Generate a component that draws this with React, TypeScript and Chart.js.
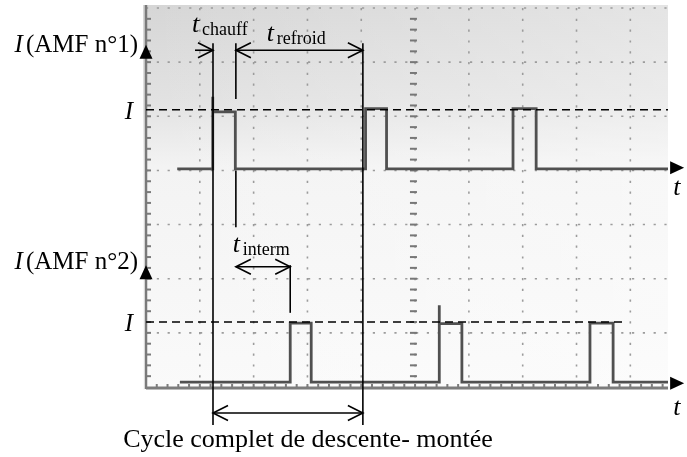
import React, { useEffect, useRef } from "react";
import { Chart, registerables } from "chart.js";

Chart.register(...registerables);

// Oscilloscope screen, units = divisions
const X_MAX = 9.7;
const Y_MAX = 7;

// Trace AMF n°1 (time, current)
const trace1Time = [0.58, 1.24, 1.24, 1.24, 1.27, 1.66, 1.66, 4.08, 4.08, 4.47, 4.47, 6.82, 6.82, 7.25, 7.25, 9.7];
const trace1Current = [4.03, 4.03, 5.36, 5.08, 5.08, 5.08, 4.03, 4.03, 5.14, 5.14, 4.03, 4.03, 5.14, 5.14, 4.03, 4.03];

// Trace AMF n°2 (time, current)
const trace2Time = [0.63, 2.68, 2.68, 3.07, 3.07, 5.45, 5.45, 5.45, 5.48, 5.87, 5.87, 8.25, 8.25, 8.68, 8.68, 9.7];
const trace2Current = [0.09, 0.09, 1.18, 1.18, 0.09, 0.09, 1.51, 1.17, 1.17, 1.17, 0.09, 0.09, 1.18, 1.18, 0.09, 0.09];

// Current levels I
const levelI1 = 5.12;
const levelI2 = 1.2;
const levelI2End = 8.85;

// Time markers
const tChauffStart = 1.245;
const tChauffEnd = 1.67;
const tRefroidEnd = 4.03;
const tIntermEnd = 2.68;

// Axis origins
const axis1Base = 4.05;
const axis2Base = 0.07;
const axis1Top = 6.32;
const axis2Top = 2.25;
const tAxisEnd = 10.0;

// Texts
const axis1Label = "(AMF n°1)";
const axis2Label = "(AMF n°2)";
const cycleLabel = "Cycle complet de descente- montée";
const subChauff = "chauff";
const subRefroid = "refroid";
const subInterm = "interm";

const SERIF = '"Liberation Serif", "Times New Roman", serif';

function toPoints(xs: number[], ys: number[]) {
  return xs.map((x, i) => ({ x, y: ys[i] }));
}

const overlay = {
  id: "overlay",
  beforeDatasetsDraw(chart: any) {
    const ctx = chart.ctx as CanvasRenderingContext2D;
    const xs = chart.scales.x;
    const ys = chart.scales.y;
    const px = (v: number) => xs.getPixelForValue(v);
    const py = (v: number) => ys.getPixelForValue(v);
    const a = chart.chartArea;
    ctx.save();
    ctx.fillStyle = "#ffffff";
    ctx.fillRect(0, 0, chart.width, chart.height);
    // screen background
    const g = ctx.createLinearGradient(0, a.top - 3, 0, a.bottom + 3);
    g.addColorStop(0, "#d6d6d6");
    g.addColorStop(0.25, "#e2e2e2");
    g.addColorStop(0.42, "#f3f3f3");
    g.addColorStop(1, "#fafafa");
    ctx.fillStyle = g;
    ctx.fillRect(a.left - 3, a.top - 3, a.right - a.left + 3, a.bottom - a.top + 6);
    // lighter right side at top
    const g2 = ctx.createLinearGradient(a.left, 0, a.right, 0);
    g2.addColorStop(0, "rgba(255,255,255,0)");
    g2.addColorStop(1, "rgba(255,255,255,0.35)");
    ctx.fillStyle = g2;
    ctx.fillRect(a.left - 3, a.top - 3, a.right - a.left + 3, a.bottom - a.top + 6);

    // dotted grid
    ctx.strokeStyle = "#9c9c9c";
    ctx.lineWidth = 1.6;
    ctx.setLineDash([2.2, 8.6]);
    for (let i = 1; i <= 9; i++) {
      ctx.beginPath();
      ctx.moveTo(px(i), a.top);
      ctx.lineTo(px(i), a.bottom);
      ctx.stroke();
    }
    for (let j = 1; j <= 7; j++) {
      ctx.beginPath();
      ctx.moveTo(a.left, py(j));
      ctx.lineTo(a.right, py(j));
      ctx.stroke();
    }
    ctx.setLineDash([]);

    // center axis ticks
    ctx.strokeStyle = "#777777";
    ctx.lineWidth = 2;
    for (let v = 0.2; v < Y_MAX; v += 0.2) {
      ctx.beginPath();
      ctx.moveTo(px(4.97) - 3.5, py(v));
      ctx.lineTo(px(4.97) + 3.5, py(v));
      ctx.stroke();
    }
    // left border with ticks
    ctx.strokeStyle = "#7a7a7a";
    ctx.lineWidth = 2.5;
    ctx.beginPath();
    ctx.moveTo(a.left, a.top - 3);
    ctx.lineTo(a.left, a.bottom + 2);
    ctx.stroke();
    ctx.lineWidth = 2;
    for (let v = 0.2; v < Y_MAX; v += 0.2) {
      ctx.beginPath();
      ctx.moveTo(a.left, py(v));
      ctx.lineTo(a.left + 5, py(v));
      ctx.stroke();
    }
    // bottom border with ticks
    ctx.strokeStyle = "#7c7c7c";
    ctx.lineWidth = 3;
    ctx.beginPath();
    ctx.moveTo(a.left, a.bottom + 1);
    ctx.lineTo(a.right, a.bottom + 1);
    ctx.stroke();
    ctx.lineWidth = 2;
    for (let v = 0.2; v < X_MAX; v += 0.2) {
      ctx.beginPath();
      ctx.moveTo(px(v), a.bottom + 1);
      ctx.lineTo(px(v), a.bottom - 3);
      ctx.stroke();
    }
    ctx.restore();
  },
  afterDatasetsDraw(chart: any) {
    const ctx = chart.ctx as CanvasRenderingContext2D;
    const xs = chart.scales.x;
    const ys = chart.scales.y;
    const px = (v: number) => xs.getPixelForValue(v);
    const py = (v: number) => ys.getPixelForValue(v);
    const a = chart.chartArea;
    ctx.save();
    ctx.strokeStyle = "#000";
    ctx.fillStyle = "#000";

    // dashed I levels
    ctx.lineWidth = 1.6;
    ctx.setLineDash([8, 5]);
    ctx.beginPath();
    ctx.moveTo(a.left, py(levelI1));
    ctx.lineTo(px(X_MAX), py(levelI1));
    ctx.moveTo(a.left, py(levelI2));
    ctx.lineTo(px(levelI2End), py(levelI2));
    ctx.stroke();
    ctx.setLineDash([]);

    // vertical marker lines
    const vline = (x: number, y1: number, y2: number) => {
      ctx.beginPath();
      ctx.moveTo(px(x), py(y1));
      ctx.lineTo(px(x), py(y2));
      ctx.stroke();
    };
    ctx.lineWidth = 1.6;
    vline(tChauffStart, 6.35, -0.7);
    vline(tChauffEnd, 6.35, 5.32);
    vline(tChauffEnd, 4.0, 2.95);
    vline(tRefroidEnd, 6.35, -0.7);
    vline(tIntermEnd, 2.25, 1.37);

    // open arrow heads
    const head = (xTip: number, y: number, dir: number) => {
      const X = px(xTip);
      const Y = py(y);
      ctx.beginPath();
      ctx.moveTo(X - dir * 15, Y - 7.5);
      ctx.lineTo(X, Y);
      ctx.lineTo(X - dir * 15, Y + 7.5);
      ctx.stroke();
    };
    const hArrow = (x1: number, x2: number, y: number, both: boolean) => {
      ctx.beginPath();
      ctx.moveTo(px(x1), py(y));
      ctx.lineTo(px(x2), py(y));
      ctx.stroke();
      head(x2, y, 1);
      if (both) head(x1, y, -1);
    };
    ctx.lineWidth = 1.6;
    hArrow(0.91, tChauffStart, 6.22, false);
    hArrow(tChauffEnd, tRefroidEnd, 6.22, true);
    hArrow(tChauffEnd, tIntermEnd, 2.22, true);
    hArrow(tChauffStart, tRefroidEnd, -0.48, true);

    // filled axis arrows
    const upTri = (x: number, y: number) => {
      const X = px(x);
      const Y = py(y);
      ctx.beginPath();
      ctx.moveTo(X, Y);
      ctx.lineTo(X - 6.5, Y + 14);
      ctx.lineTo(X + 6.5, Y + 14);
      ctx.closePath();
      ctx.fill();
    };
    const rightTri = (x: number, y: number) => {
      const X = px(x);
      const Y = py(y);
      ctx.beginPath();
      ctx.moveTo(X, Y);
      ctx.lineTo(X - 14, Y - 6.5);
      ctx.lineTo(X - 14, Y + 6.5);
      ctx.closePath();
      ctx.fill();
    };
    upTri(0, axis1Top);
    upTri(0, axis2Top);
    rightTri(tAxisEnd, axis1Base);
    rightTri(tAxisEnd, axis2Base);

    // texts
    ctx.textBaseline = "alphabetic";
    const tLabel = (x: number, base: number, sub: string) => {
      ctx.textAlign = "left";
      ctx.font = `italic 26px ${SERIF}`;
      ctx.fillText("t", x, base);
      ctx.font = `18px ${SERIF}`;
      ctx.fillText(sub, x + 10, base + 3);
    };
    tLabel(px(tChauffStart) - 21, 32, subChauff);
    tLabel(px(tChauffEnd) + 31, 41, subRefroid);
    tLabel(px(tChauffEnd) - 3, 252, subInterm);

    // t axis labels
    ctx.font = `italic 26px ${SERIF}`;
    ctx.textAlign = "left";
    ctx.fillText("t", px(tAxisEnd) - 11, py(axis1Base) + 27);
    ctx.fillText("t", px(tAxisEnd) - 11, py(axis2Base) + 32);

    // I level labels
    ctx.textAlign = "right";
    ctx.font = `italic 25px ${SERIF}`;
    ctx.fillText("I", a.left - 13, py(levelI1) + 9);
    ctx.fillText("I", a.left - 13, py(levelI2) + 9);

    // axis titles
    const axisTitle = (y: number, txt: string) => {
      ctx.font = `25px ${SERIF}`;
      ctx.textAlign = "right";
      const right = a.left - 8;
      ctx.fillText(txt, right, py(y));
      const w = ctx.measureText(txt).width;
      ctx.font = `italic 25px ${SERIF}`;
      ctx.fillText("I", right - w - 3, py(y));
    };
    axisTitle(6.19, axis1Label);
    axisTitle(2.18, axis2Label);

    // cycle label
    ctx.font = `26px ${SERIF}`;
    ctx.textAlign = "center";
    ctx.fillText(cycleLabel, 308, 447);

    ctx.restore();
  },
};

export default function App() {
  const ref = useRef<HTMLCanvasElement | null>(null);
  useEffect(() => {
    if (!ref.current) return;
    const chart = new Chart(ref.current, {
      type: "scatter",
      data: {
        datasets: [
          {
            data: toPoints(trace1Time, trace1Current),
            showLine: true,
            borderColor: "#505050",
            borderWidth: 2.8,
            pointRadius: 0,
            tension: 0,
          },
          {
            data: toPoints(trace2Time, trace2Current),
            showLine: true,
            borderColor: "#505050",
            borderWidth: 2.8,
            pointRadius: 0,
            tension: 0,
          },
        ],
      },
      options: {
        responsive: false,
        animation: false,
        devicePixelRatio: 1,
        layout: { padding: { left: 146, right: 19, top: 8, bottom: 70 } },
        scales: {
          x: { type: "linear", min: 0, max: X_MAX, display: false },
          y: { type: "linear", min: 0, max: Y_MAX, display: false },
        },
        plugins: {
          legend: { display: false },
          tooltip: { enabled: false },
        },
      },
      plugins: [overlay],
    });
    return () => chart.destroy();
  }, []);
  return (
    <div style={{ position: "absolute", left: 0, top: 0, width: 687, height: 457 }}>
      <canvas ref={ref} width={687} height={457} style={{ display: "block" }} />
    </div>
  );
}
